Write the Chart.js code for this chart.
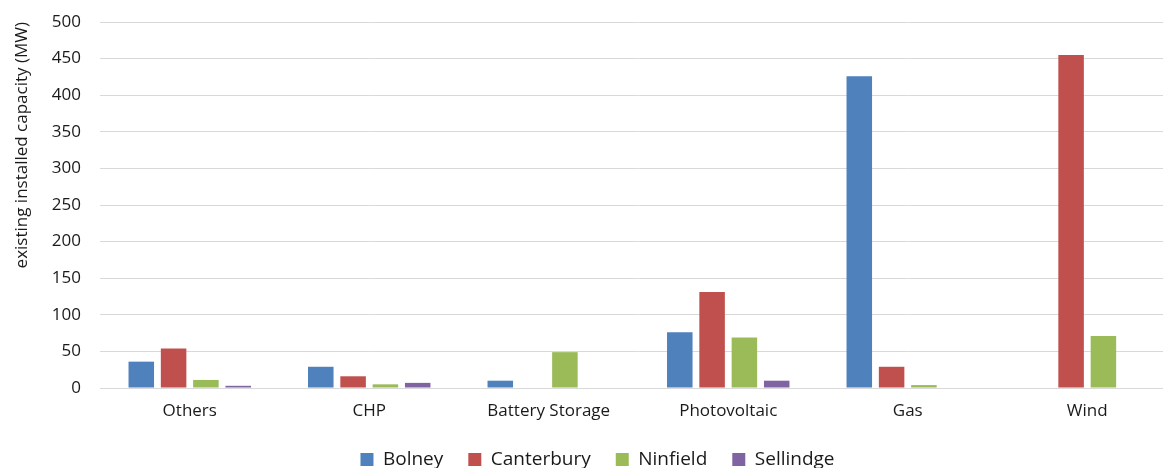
<!DOCTYPE html>
<html>
<head>
<meta charset="utf-8">
<script src="https://cdn.jsdelivr.net/npm/chart.js@4/dist/chart.umd.min.js"></script>
<style>
    html, body { margin: 0; padding: 0; overflow: hidden; background: #fff; }
    #wrap { width: 1195px; height: 468px; position: relative; }
</style>
</head>
<body>
<div id="wrap"><canvas id="capacidad-grafica"></canvas></div>
<script>
const categorias = ['Others', 'CHP', 'Battery Storage', 'Photovoltaic', 'Gas', 'Wind'];
const bolney     = [36, 29, 10, 76, 426, 0];
const canterbury = [54, 16, 0, 131, 29, 455];
const ninfield   = [11, 5, 49, 69, 4, 71];
const sellindge  = [3, 7, 0, 10, 0, 0];
const ticksY     = [0, 50, 100, 150, 200, 250, 300, 350, 400, 450, 500];

(function () {
    const ctx = document.getElementById('capacidad-grafica');
    const fuente = 'Open Sans';

    new Chart(ctx, {
        type: 'bar',
        data: {
            labels: categorias,
            datasets: [
                { label: 'Bolney', data: bolney, backgroundColor: '#4F81BD' },
                { label: 'Canterbury', data: canterbury, backgroundColor: '#C0504D' },
                { label: 'Ninfield', data: ninfield, backgroundColor: '#9BBB59' },
                { label: 'Sellindge', data: sellindge, backgroundColor: '#8064A2' }
            ]
        },
        options: {
            responsive: true,
            maintainAspectRatio: false,
            animation: false,
            categoryPercentage: 0.72,
            barPercentage: 0.79,
            layout: {
                padding: { left: 18, right: 18, top: 22, bottom: -11 }
            },
            scales: {
                x: {
                    grid: { display: false, drawTicks: false },
                    border: { display: true, color: '#d9d9d9', width: 1 },
                    ticks: {
                        color: '#1a1a1a',
                        padding: 13,
                        maxRotation: 0,
                        autoSkip: false,
                        font: { family: fuente, size: 17 }
                    },
                    afterFit: scale => { scale.height = 37; }
                },
                y: {
                    min: 0,
                    max: 500,
                    afterBuildTicks: scale => {
                        scale.ticks = ticksY.map(v => ({ value: v }));
                    },
                    // espacio entre etiquetas y rejilla con marcas invisibles
                    grid: { color: '#d9d9d9', drawTicks: true, tickLength: 19, tickColor: 'transparent' },
                    border: { display: false },
                    ticks: {
                        color: '#1a1a1a',
                        padding: 0,
                        font: { family: fuente, size: 17 }
                    },
                    title: {
                        display: true,
                        text: 'existing installed capacity (MW)',
                        align: 'end',
                        color: '#1a1a1a',
                        padding: { top: -6, bottom: 0 },
                        font: { family: fuente, size: 17 }
                    },
                    afterFit: scale => { scale.width = 82; }
                }
            },
            plugins: {
                legend: {
                    position: 'bottom',
                    labels: {
                        boxWidth: 13,
                        boxHeight: 13,
                        padding: 25,
                        color: '#1a1a1a',
                        font: { family: fuente, size: 19 }
                    }
                },
                tooltip: { enabled: false }
            }
        }
    });
})();
</script>
</body>
</html>
